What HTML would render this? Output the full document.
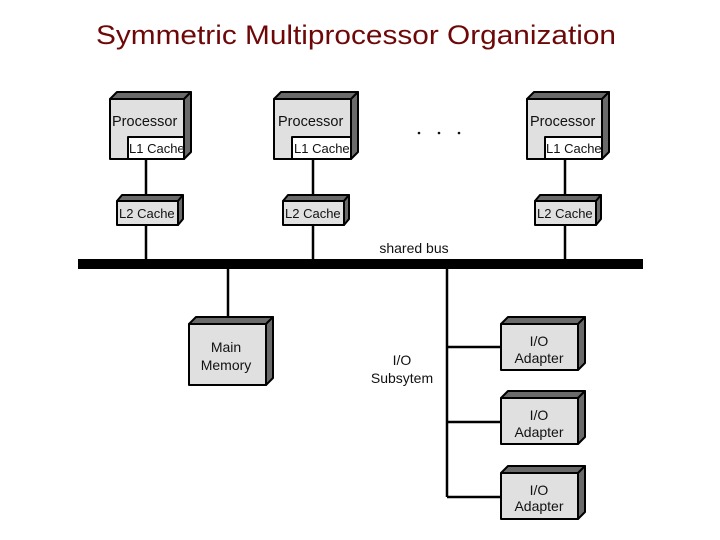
<!DOCTYPE html>
<html><head><meta charset="utf-8"><style>
html,body{margin:0;padding:0;background:#fff;}
svg{display:block;}
text{font-family:"Liberation Sans",sans-serif;}
</style></head><body>
<svg width="720" height="540" viewBox="0 0 720 540" xmlns="http://www.w3.org/2000/svg">
<text x="356" y="44" text-anchor="middle" font-size="27" fill="#6e0808" textLength="520" lengthAdjust="spacingAndGlyphs">Symmetric Multiprocessor Organization</text>

<g stroke="#000" stroke-width="2.5" fill="none">
<line x1="146" y1="159" x2="146" y2="261"/>
<line x1="313" y1="159" x2="313" y2="261"/>
<line x1="565" y1="159" x2="565" y2="261"/>
<line x1="228" y1="266" x2="228" y2="318"/>
<line x1="447" y1="266" x2="447" y2="497"/>
<line x1="447" y1="347" x2="502" y2="347"/>
<line x1="447" y1="422" x2="502" y2="422"/>
<line x1="447" y1="497" x2="502" y2="497"/>
</g>
<rect x="78" y="259" width="565" height="10" fill="#000"/>

<g stroke="#000" stroke-width="2" stroke-linejoin="round">
<g>
<polygon points="110,99 117,92 191,92 184,99" fill="#6a6a6a"/>
<polygon points="184,99 191,92 191,152 184,159" fill="#6a6a6a"/>
<rect x="110" y="99" width="74" height="60" fill="#e0e0e0"/>
<rect x="128" y="137" width="56" height="22" fill="#fff"/>
</g>
<g>
<polygon points="274,99 281,92 358,92 351,99" fill="#6a6a6a"/>
<polygon points="351,99 358,92 358,152 351,159" fill="#6a6a6a"/>
<rect x="274" y="99" width="77" height="60" fill="#e0e0e0"/>
<rect x="292" y="137" width="59" height="22" fill="#fff"/>
</g>
<g>
<polygon points="527,99 534,92 609,92 602,99" fill="#6a6a6a"/>
<polygon points="602,99 609,92 609,152 602,159" fill="#6a6a6a"/>
<rect x="527" y="99" width="75" height="60" fill="#e0e0e0"/>
<rect x="545" y="137" width="57" height="22" fill="#fff"/>
</g>
<g>
<polygon points="117,201 122,195 183,195 178,201" fill="#6a6a6a"/>
<polygon points="178,201 183,195 183,219 178,225" fill="#6a6a6a"/>
<rect x="117" y="201" width="61" height="24" fill="#e0e0e0"/>
</g>
<g>
<polygon points="283,201 288,195 349,195 344,201" fill="#6a6a6a"/>
<polygon points="344,201 349,195 349,219 344,225" fill="#6a6a6a"/>
<rect x="283" y="201" width="61" height="24" fill="#e0e0e0"/>
</g>
<g>
<polygon points="535,201 540,195 601,195 596,201" fill="#6a6a6a"/>
<polygon points="596,201 601,195 601,219 596,225" fill="#6a6a6a"/>
<rect x="535" y="201" width="61" height="24" fill="#e0e0e0"/>
</g>
<g>
<polygon points="189,324 196,317 273,317 266,324" fill="#6a6a6a"/>
<polygon points="266,324 273,317 273,378 266,385" fill="#6a6a6a"/>
<rect x="189" y="324" width="77" height="61" fill="#e0e0e0"/>
</g>
<g>
<polygon points="501,324 508,317 585,317 578,324" fill="#6a6a6a"/>
<polygon points="578,324 585,317 585,363 578,370" fill="#6a6a6a"/>
<rect x="501" y="324" width="77" height="46" fill="#e0e0e0"/>
</g>
<g>
<polygon points="501,398 508,391 585,391 578,398" fill="#6a6a6a"/>
<polygon points="578,398 585,391 585,437 578,444" fill="#6a6a6a"/>
<rect x="501" y="398" width="77" height="46" fill="#e0e0e0"/>
</g>
<g>
<polygon points="501,473 508,466 585,466 578,473" fill="#6a6a6a"/>
<polygon points="578,473 585,466 585,512 578,519" fill="#6a6a6a"/>
<rect x="501" y="473" width="77" height="46" fill="#e0e0e0"/>
</g>
</g>

<g font-size="14.5" fill="#111">
<text x="112" y="126">Processor</text>
<text x="278" y="126">Processor</text>
<text x="530" y="126">Processor</text>
</g>
<g font-size="13" fill="#111">
<text x="129" y="153">L1 Cache</text>
<text x="294" y="153">L1 Cache</text>
<text x="546" y="153">L1 Cache</text>
<text x="119" y="218">L2 Cache</text>
<text x="285" y="218">L2 Cache</text>
<text x="537" y="218">L2 Cache</text>
</g>
<g font-size="14" fill="#111" text-anchor="middle">
<text x="226" y="352">Main</text>
<text x="226" y="370">Memory</text>
<text x="539" y="346">I/O</text>
<text x="539" y="363">Adapter</text>
<text x="539" y="420">I/O</text>
<text x="539" y="437">Adapter</text>
<text x="539" y="495">I/O</text>
<text x="539" y="511">Adapter</text>
<text x="402" y="365">I/O</text>
<text x="402" y="383">Subsytem</text>
<text x="414" y="253">shared bus</text>
</g>
<g fill="#111">
<circle cx="419" cy="133" r="1.3"/><circle cx="439" cy="133" r="1.3"/><circle cx="459" cy="133" r="1.3"/>
</g>
</svg>
</body></html>
